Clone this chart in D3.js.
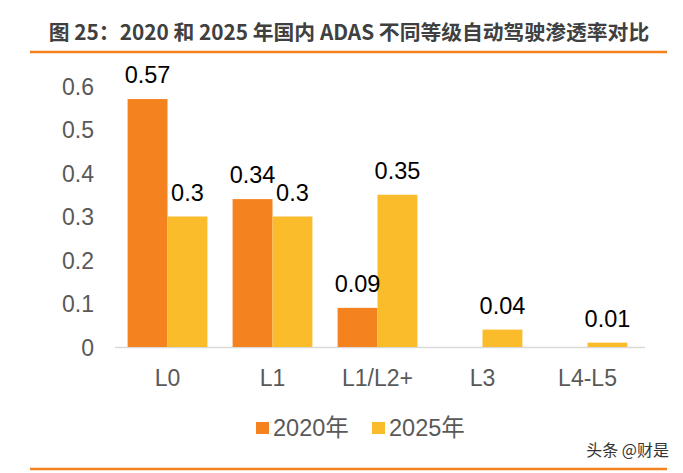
<!DOCTYPE html>
<html><head><meta charset="utf-8">
<script src="https://cdn.jsdelivr.net/npm/d3@7"></script>
<style>body{margin:0;background:#fff}svg{display:block}</style>
</head><body>
<script>
const categories = ["L0","L1","L1/L2+","L3","L4-L5"];
const series2020 = [0.57,0.34,0.09,null,null];
const series2025 = [0.3,0.3,0.35,0.04,0.01];
const seriesNames = ["2020年","2025年"];
const yTicks = [0,0.1,0.2,0.3,0.4,0.5,0.6];
const colors = ["#F4821F","#FBBC2C"];
const W=683,H=473;
const svg=d3.select("body").append("svg").attr("width",W).attr("height",H);
const font="'Liberation Sans', Arial, 'Noto Sans CJK SC', sans-serif";
svg.append("text").attr("x",349).attr("y",40).attr("text-anchor","middle")
 .attr("font-family","'Noto Sans CJK SC', sans-serif").attr("font-weight","bold").attr("font-size",20.8)
 .attr("fill","#404040").text("图 25：2020 和 2025 年国内 ADAS 不同等级自动驾驶渗透率对比");
svg.append("line").attr("x1",30).attr("x2",667).attr("y1",52).attr("y2",52).attr("stroke","#F4821F").attr("stroke-width",2.5);
svg.append("line").attr("x1",30).attr("x2",667).attr("y1",469).attr("y2",469).attr("stroke","#F4821F").attr("stroke-width",2.5);
const x=d3.scaleBand().domain(categories).range([115,640]).paddingInner(0.24).paddingOuter(0.12);
const y=d3.scaleLinear().domain([0,0.6]).range([347,86]);
const x1=d3.scaleBand().domain([0,1]).range([0,x.bandwidth()]);
svg.append("line").attr("x1",115).attr("x2",645).attr("y1",y(0)+0.5).attr("y2",y(0)+0.5).attr("stroke","#d9d9d9").attr("stroke-width",1.5);
const data=[series2020,series2025];
const barG=svg.append("g"), labG=svg.append("g");
data.forEach((s,si)=>{
  categories.forEach((c,i)=>{
    const v=s[i]; if(v==null) return;
    const bx=x(c)+x1(si);
    barG.append("rect").attr("x",bx).attr("y",y(v)).attr("width",x1.bandwidth()).attr("height",y(0)-y(v)).attr("fill",colors[si]);
    labG.append("text").attr("x",bx+x1.bandwidth()/2).attr("y",y(v)-16).attr("text-anchor","middle")
     .attr("font-family",font).attr("font-size",23.5).attr("fill","#000").text(String(v));
  });
});
const yAxis=d3.axisLeft(y).tickValues(yTicks).tickSize(0).tickPadding(0).tickFormat(d=>String(+d.toFixed(1)));
const ya=svg.append("g").attr("transform","translate(94,0)").call(yAxis);
ya.select(".domain").remove();
ya.selectAll("text").attr("font-family",font).attr("font-size",23).attr("fill","#595959").attr("dy","0.36em");
const xAxis=d3.axisBottom(x).tickSize(0).tickPadding(0);
const xa=svg.append("g").attr("transform","translate(0,386)").call(xAxis);
xa.select(".domain").remove();
xa.selectAll("text").attr("font-family",font).attr("font-size",23).attr("fill","#595959").attr("dy","0");
const leg=[{x:256,n:seriesNames[0],c:colors[0]},{x:372,n:seriesNames[1],c:colors[1]}];
leg.forEach(l=>{
  svg.append("rect").attr("x",l.x).attr("y",422).attr("width",13).attr("height",12).attr("fill",l.c);
  svg.append("text").attr("x",l.x+17).attr("y",436).attr("font-family",font).attr("font-size",23.5).attr("fill","#595959").text(l.n);
});
svg.append("text").attr("x",669).attr("y",456).attr("text-anchor","end").attr("font-family","'Noto Sans CJK SC', sans-serif")
 .attr("font-size",16).attr("fill","#333").text("头条 @财是");
</script>
</body></html>
